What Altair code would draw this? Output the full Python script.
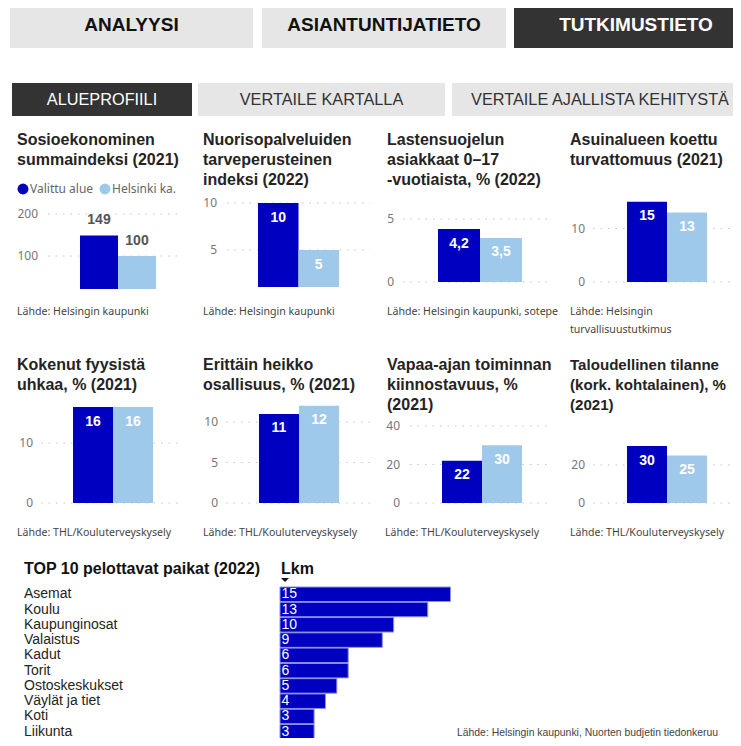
import altair as alt
import pandas as pd

# ---------------- data ----------------
main_tabs = ["ANALYYSI", "ASIANTUNTIJATIETO", "TUTKIMUSTIETO"]
sub_tabs = ["ALUEPROFIILI", "VERTAILE KARTALLA", "VERTAILE AJALLISTA KEHITYSTÄ"]

groups = ["Valittu alue", "Helsinki ka."]
group_colors = ["#0000C0", "#9FC9EB"]

panel_titles = [
    "Sosioekonominen\nsummaindeksi (2021)",
    "Nuorisopalveluiden\ntarveperusteinen\nindeksi (2022)",
    "Lastensuojelun\nasiakkaat 0–17\n-vuotiaista, % (2022)",
    "Asuinalueen koettu\nturvattomuus (2021)",
    "Kokenut fyysistä\nuhkaa, % (2021)",
    "Erittäin heikko\nosallisuus, % (2021)",
    "Vapaa-ajan toiminnan\nkiinnostavuus, %\n(2021)",
    "Taloudellinen tilanne\n(kork. kohtalainen), %\n(2021)",
]
panel_sources = [
    "Lähde: Helsingin kaupunki",
    "Lähde: Helsingin kaupunki",
    "Lähde: Helsingin kaupunki, sotepe",
    "Lähde: Helsingin\nturvallisuustutkimus",
    "Lähde: THL/Kouluterveyskysely",
    "Lähde: THL/Kouluterveyskysely",
    "Lähde: THL/Kouluterveyskysely",
    "Lähde: THL/Kouluterveyskysely",
]
valittu_values = [149, 10, 4.2, 15, 16, 11, 22, 30]
helsinki_values = [100, 5, 3.5, 13, 16, 12, 30, 25]
axis_ticks = [[100, 200], [5, 10], [0, 5], [0, 10], [0, 10], [0, 5, 10], [0, 20, 40], [0, 20]]

top_title = "TOP 10 pelottavat paikat (2022)"
top_header = "Lkm"
top_places = ["Asemat", "Koulu", "Kaupunginosat", "Valaistus", "Kadut", "Torit",
              "Ostoskeskukset", "Väylät ja tiet", "Koti", "Liikunta"]
top_counts = [15, 13, 10, 9, 6, 6, 5, 4, 3, 3]
top_source = "Lähde: Helsingin kaupunki, Nuorten budjetin tiedonkeruu"

# ---------------- layout (page pixel coordinates) ----------------
OX, OY = 8, 8
def px(x):
    return x - OX
def py(y):
    return y - OY

ARIAL = "Liberation Sans, Arial, sans-serif"
SEGOE = "Noto Sans, Segoe UI, sans-serif"
TITLE_COLOR = "#252423"

layout = [
    dict(t=(17, 145), ts=16, bx=(80, 156), y0=298, k=0.42, dom=(21.4, 200), tr=38, g=(48, 183), inside=False, s=(17, 315)),
    dict(t=(203, 145), ts=16, bx=(258, 339), y0=297, k=9.4, dom=(1.06, 10), tr=217, g=(227, 370), inside=True, s=(203, 315)),
    dict(t=(387, 145), ts=16, bx=(438, 522), y0=282, k=12.6, dom=(0, 5), tr=394, g=(403, 552), inside=True, s=(387, 315)),
    dict(t=(570, 145), ts=16, bx=(627, 707), y0=282, k=5.35, dom=(0, 10), tr=585, g=(593, 741), inside=True, s=(570, 315)),
    dict(t=(17, 370), ts=16, bx=(73, 153), y0=503, k=6.0, dom=(0, 10), tr=33, g=(41, 182), inside=True, s=(17, 536)),
    dict(t=(203, 370), ts=16, bx=(259, 339), y0=503, k=8.1, dom=(0, 10), tr=218, g=(226, 370), inside=True, s=(203, 536)),
    dict(t=(387, 370), ts=16, bx=(442, 522), y0=503, k=1.925, dom=(0, 40), tr=400, g=(410, 552), inside=True, s=(385, 536)),
    dict(t=(570, 370), ts=15.1, bx=(627, 707), y0=503, k=1.9, dom=(0, 20), tr=585, g=(593, 741), inside=True, s=(570, 536)),
]


def fmt(v):
    return str(int(v)) if float(v).is_integer() else str(v).replace(".", ",")


def text_item(text, x, y, size, color, weight="normal", align="left",
              baseline="alphabetic", font=ARIAL, line_height=None):
    df = pd.DataFrame({"t": [text]})
    kw = dict(align=align, baseline=baseline, fontSize=size, color=color,
              fontWeight=weight, font=font, lineBreak="\n")
    if line_height:
        kw["lineHeight"] = line_height
    return alt.Chart(df).mark_text(**kw).encode(
        text="t:N", x=alt.value(px(x)), y=alt.value(py(y)))


def rect_item(x1, x2, y1, y2, color):
    df = pd.DataFrame({"r": [0]})
    return alt.Chart(df).mark_rect(color=color).encode(
        x=alt.value(px(x1)), x2=alt.value(px(x2)),
        y=alt.value(py(y1)), y2=alt.value(py(y2)))


legend = alt.Legend(orient="none", legendX=px(17), legendY=py(183), direction="horizontal",
                    title=None, symbolType="circle", symbolSize=120, symbolStrokeWidth=0,
                    labelFont=SEGOE, labelFontSize=12, labelColor="#666666",
                    labelOffset=1, columnPadding=5, padding=0)

layers = []

# ---- tabs ----
tab_rects = [((10, 253), "#E6E6E6", "#111111"), ((262, 506), "#E6E6E6", "#111111"), ((514, 760), "#333333", "#FFFFFF")]
tab_centers = [131.5, 384, 636]
for name, (xr, bg, fg), cx in zip(main_tabs, tab_rects, tab_centers):
    layers.append(rect_item(xr[0], xr[1], 4, 48, bg))
    layers.append(text_item(name, cx, 25, 19, fg, weight="bold", align="center", baseline="middle"))

sub_rects = [((12, 192), "#333333", "#FFFFFF"), ((198, 445), "#E6E6E6", "#333333"), ((452, 760), "#E6E6E6", "#333333")]
sub_centers = [102, 321.5, 600]
for name, (xr, bg, fg), cx in zip(sub_tabs, sub_rects, sub_centers):
    layers.append(rect_item(xr[0], xr[1], 83, 116, bg))
    layers.append(text_item(name, cx, 99.5, 16.3, fg, align="center", baseline="middle"))

# ---- small panels ----
for i, L in enumerate(layout):
    df = pd.DataFrame({"group": groups, "value": [valittu_values[i], helsinki_values[i]]})
    df["label"] = df["value"].map(fmt)
    tdf = pd.DataFrame({"tick": axis_ticks[i]})
    d0, d1 = L["dom"]
    yscale = alt.Scale(domain=[d0, d1], range=[py(L["y0"] - L["k"] * d0), py(L["y0"] - L["k"] * d1)],
                       nice=False, zero=False)
    xscale = alt.Scale(domain=groups, range=[px(L["bx"][0]), px(L["bx"][1])],
                       paddingInner=0, paddingOuter=0)

    grid = alt.Chart(tdf).mark_rule(color="#C8C6C4", strokeWidth=1, strokeDash=[1.5, 6]).encode(
        y=alt.Y("tick:Q", scale=yscale, axis=None),
        x=alt.value(px(L["g"][0])), x2=alt.value(px(L["g"][1])))
    ticklab = alt.Chart(tdf).mark_text(align="right", baseline="middle", font=SEGOE,
                                       fontSize=12, color="#777777").encode(
        y=alt.Y("tick:Q", scale=yscale, axis=None), x=alt.value(px(L["tr"])), text="tick:Q")
    bars = alt.Chart(df).mark_bar().encode(
        x=alt.X("group:N", scale=xscale, axis=None),
        y=alt.Y("value:Q", scale=yscale, axis=None),
        y2=alt.datum(d0),
        color=alt.Color("group:N", scale=alt.Scale(domain=groups, range=group_colors), legend=legend))
    if L["inside"]:
        lab = alt.Chart(df).mark_text(baseline="middle", dy=14.5, color="white", font=ARIAL,
                                      fontSize=14, fontWeight="bold")
    else:
        lab = alt.Chart(df).mark_text(baseline="middle", dy=-15, color="#555555", font=ARIAL,
                                      fontSize=14, fontWeight="bold")
    labels = lab.encode(x=alt.X("group:N", scale=xscale, axis=None),
                        y=alt.Y("value:Q", scale=yscale, axis=None), text="label:N")
    layers.append(alt.layer(grid, ticklab, bars, labels))

    layers.append(text_item(panel_titles[i], L["t"][0], L["t"][1], L["ts"], TITLE_COLOR,
                            weight="bold", line_height=20))
    layers.append(text_item(panel_sources[i], L["s"][0], L["s"][1], 10.6, "#444444",
                            font=SEGOE, line_height=18))

# ---- top 10 ----
topdf = pd.DataFrame({"place": top_places, "count": top_counts})
ys = alt.Scale(domain=top_places, range=[py(587), py(739)], paddingInner=0.05, paddingOuter=0)
xs = alt.Scale(domain=[0, 15], range=[px(280), px(450.5)], nice=False, zero=True)
tbars = alt.Chart(topdf).mark_bar(color="#0000C0", stroke="#8F8FE0", strokeWidth=1).encode(
    y=alt.Y("place:N", scale=ys, axis=None), x=alt.X("count:Q", scale=xs, axis=None))
tvals = alt.Chart(topdf).mark_text(align="left", baseline="middle", dx=1.5, color="white",
                                   font=ARIAL, fontSize=14).encode(
    y=alt.Y("place:N", scale=ys, axis=None), x=alt.datum(0), text="count:Q")
tcats = alt.Chart(topdf).mark_text(align="left", baseline="middle", color=TITLE_COLOR,
                                   font=ARIAL, fontSize=14).encode(
    y=alt.Y("place:N", scale=ys, axis=None), x=alt.value(px(24)), text="place:N")
layers.append(alt.layer(tbars, tvals, tcats))
layers.append(text_item(top_title, 24, 569, 16, "#111111", weight="bold", baseline="middle"))
layers.append(text_item(top_header, 281, 569, 16, "#111111", weight="bold", baseline="middle"))
tri = alt.Chart(pd.DataFrame({"r": [0]})).mark_point(
    shape="M-1,-0.5L1,-0.5L0,0.5Z", filled=True, size=64, color="#111111", opacity=1).encode(
    x=alt.value(px(285)), y=alt.value(py(580)))
layers.append(tri)
layers.append(text_item(top_source, 457, 736, 10.4, "#444444"))

chart = alt.layer(*layers).resolve_scale(x="independent", y="independent").properties(
    width=725, height=730, autosize=alt.AutoSizeParams(type="none"), padding=0,
    background="white").configure_view(stroke=None)

chart.save("out.html", embed_options={"renderer": "svg", "actions": False})
